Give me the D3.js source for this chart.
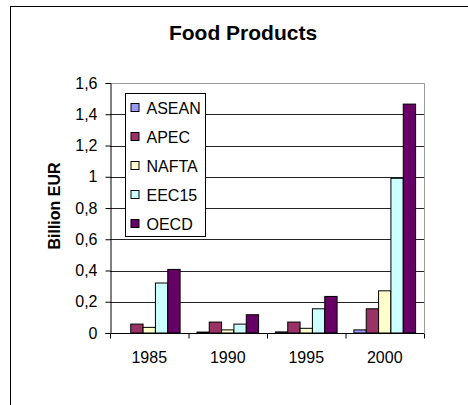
<!DOCTYPE html>
<html>
<head>
<meta charset="utf-8">
<script src="https://cdn.jsdelivr.net/npm/d3@7"></script>
<style>
  body { margin: 0; background: #fff; }
  svg { display: block; font-family: "Liberation Sans", Arial, sans-serif; }
</style>
</head>
<body>
<div class="chart"></div>
<script>
const years = ["1985", "1990", "1995", "2000"]
const series = ["ASEAN", "APEC", "NAFTA", "EEC15", "OECD"]
const colors = ["#9999ff", "#993366", "#ffffcc", "#ccffff", "#660066"]

const asean = [0, 0.006, 0.007, 0.02]
const apec = [0.057, 0.07, 0.07, 0.155]
const nafta = [0.036, 0.02, 0.03, 0.27]
const eec15 = [0.32, 0.057, 0.155, 0.99]
const oecd = [0.407, 0.117, 0.234, 1.465]

const values = [asean, apec, nafta, eec15, oecd]

const width = 468
const height = 405
const margin = { top: 83, right: 44, bottom: 72, left: 110 }

const svg = d3.select(".chart")
    .append("svg")
    .attr("width", width)
    .attr("height", height)

// outer frame (cut off at right and bottom)
svg.append("rect")
    .attr("x", 10.5).attr("y", 6.5)
    .attr("width", 480).attr("height", 420)
    .attr("fill", "none")
    .attr("stroke", "#000")

svg.append("text")
    .attr("x", 243).attr("y", 40)
    .attr("text-anchor", "middle")
    .attr("font-size", 21)
    .attr("font-weight", "bold")
    .text("Food Products")

const x0 = d3.scaleBand()
    .domain(years)
    .range([margin.left, width - margin.right])

const x1 = d3.scaleBand()
    .domain(series)
    .range([8.4, x0.bandwidth() - 8.4])

const y = d3.scaleLinear()
    .domain([0, 1.6])
    .range([height - margin.bottom, margin.top])

const fmt = d3.formatLocale({ decimal: ",", thousands: ".", grouping: [3], currency: ["", "€"] }).format(".1~f")

// plot frame top/right
svg.append("path")
    .attr("d", `M${margin.left},${y(1.6) + 0.5}H${width - margin.right + 0.5}V${y(0)}`)
    .attr("fill", "none")
    .attr("stroke", "#999")

// gridlines
svg.append("g")
    .selectAll("line")
    .data(y.ticks(8).filter(d => d > 0 && d < 1.6))
    .join("line")
    .attr("x1", margin.left)
    .attr("x2", width - margin.right)
    .attr("y1", d => Math.round(y(d)) + 0.5)
    .attr("y2", d => Math.round(y(d)) + 0.5)
    .attr("stroke", "#222")

// bars
const groups = svg.append("g")
    .selectAll("g")
    .data(years)
    .join("g")
    .attr("transform", d => `translate(${x0(d)},0)`)

groups.selectAll("rect")
    .data((d, i) => series.map((s, j) => ({ s, v: values[j][i], c: colors[j] })))
    .join("rect")
    .attr("x", d => x1(d.s))
    .attr("y", d => y(d.v))
    .attr("width", x1.bandwidth())
    .attr("height", d => y(0) - y(d.v))
    .attr("fill", d => d.c)
    .attr("stroke", "#000")
    .attr("stroke-width", 1)

// y axis
const yAxis = svg.append("g")
    .attr("transform", `translate(${margin.left + 0.5},0)`)
    .call(d3.axisLeft(y).ticks(8).tickFormat(fmt).tickSize(5).tickPadding(8))
yAxis.select(".domain").attr("stroke", "#000")
yAxis.selectAll("text").attr("font-size", 16).attr("font-family", "Liberation Sans, Arial, sans-serif").attr("fill", "#000")

// x axis (ticks at category boundaries)
const xAxis = svg.append("g")
    .attr("transform", `translate(0,${y(0) + 0.5})`)
xAxis.append("line")
    .attr("x1", margin.left).attr("x2", width - margin.right)
    .attr("stroke", "#000")
xAxis.selectAll(".tk")
    .data(years.concat(["end"]))
    .join("line")
    .attr("class", "tk")
    .attr("x1", (d, i) => margin.left + i * x0.step() + 0.5)
    .attr("x2", (d, i) => margin.left + i * x0.step() + 0.5)
    .attr("y1", 0).attr("y2", 5)
    .attr("stroke", "#000")
xAxis.selectAll("text")
    .data(years)
    .join("text")
    .attr("x", d => x0(d) + x0.bandwidth() / 2)
    .attr("y", 29)
    .attr("text-anchor", "middle")
    .attr("font-size", 16)
    .text(d => d)

svg.append("text")
    .attr("transform", "translate(60,206) rotate(-90)")
    .attr("text-anchor", "middle")
    .attr("font-size", 16)
    .attr("font-weight", "bold")
    .text("Billion EUR")

// legend
const legend = svg.append("g")
    .attr("transform", "translate(125.5,93.5)")
legend.append("rect")
    .attr("width", 80).attr("height", 143)
    .attr("fill", "#fff")
    .attr("stroke", "#000")
const items = legend.selectAll("g")
    .data(series)
    .join("g")
    .attr("transform", (d, i) => `translate(0,${14 + i * 29})`)
items.append("rect")
    .attr("x", 5.5).attr("y", -4)
    .attr("width", 8).attr("height", 8)
    .attr("fill", (d, i) => colors[i])
    .attr("stroke", "#000")
items.append("text")
    .attr("x", 21).attr("y", 6)
    .attr("font-size", 16)
    .text(d => d)
</script>
</body>
</html>
